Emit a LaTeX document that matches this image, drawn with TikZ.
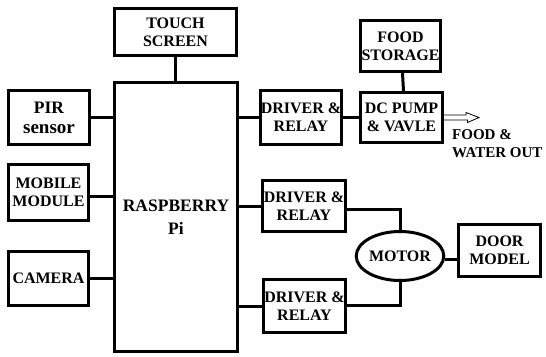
\documentclass[tikz,border=0pt]{standalone}
\usepackage{fontspec}
\setmainfont{Liberation Serif}
\usepackage{tikz}
\usetikzlibrary{shapes.geometric}

\begin{document}
\begin{tikzpicture}[x=1pt, y=-1pt,
  blk/.style={draw, line width=3pt, align=center, inner sep=0pt,
    font=\fontsize{16}{18}\selectfont\bfseries},
  wire/.style={line width=3pt}]
  \useasboundingbox (0,0) rectangle (546,356);
  \node[blk, minimum width=122, minimum height=47] (touch) at (175.5,32) {TOUCH\\SCREEN};
  \node[blk, minimum width=123, minimum height=269,
    font=\fontsize{17.5}{23}\selectfont\bfseries] (rpi) at (176,217) {RASPBERRY\\Pi};
  \node[blk, minimum width=81, minimum height=54,
    font=\fontsize{17.5}{20}\selectfont\bfseries] (pir) at (49,117.5) {PIR\\{\fontsize{19}{20}\selectfont sensor}};
  \node[blk, minimum width=80, minimum height=56] (mobile) at (48.5,192.5) {MOBILE\\MODULE};
  \node[blk, minimum width=80, minimum height=54] (camera) at (48.5,278.5) {CAMERA};
  \node[blk, minimum width=81, minimum height=54] (drvA) at (301,117.5) {DRIVER \&\\RELAY};
  \node[blk, minimum width=83, minimum height=51] (drvB) at (304,206) {DRIVER \&\\RELAY};
  \node[blk, minimum width=82, minimum height=53] (drvC) at (304.5,306) {DRIVER \&\\RELAY};
  \node[blk, minimum width=82, minimum height=50] (pump) at (401.5,117.5) {DC PUMP\\\& VAVLE};
  \node[blk, minimum width=80, minimum height=51] (food) at (400.5,46) {FOOD\\STORAGE};
  \node[blk, ellipse, minimum width=72, minimum height=49] (motor) at (400,256) {MOTOR};
  \node[blk, minimum width=82, minimum height=52] (door) at (499.5,250.5) {DOOR\\MODEL};
  \node[anchor=north west, inner sep=0pt, align=left,
    font=\fontsize{15}{18}\selectfont\bfseries] (out) at (452,129) {FOOD \&\\WATER OUT};
  \coordinate (tip) at (479,117.5);
  % links to the pi
  \draw[wire] (touch.south) -- (rpi.north -| touch.south);
  \draw[wire] (pir.east) -- (pir.east -| rpi.west);
  \draw[wire] ([yshift=-4pt]mobile.east) -- ([yshift=-4pt]mobile.east -| rpi.west);
  \draw[wire] (camera.east) -- (camera.east -| rpi.west);
  \draw[wire] (drvA.west -| rpi.east) -- (drvA.west);
  \draw[wire] (drvB.west -| rpi.east) -- (drvB.west);
  \draw[wire] (drvC.west -| rpi.east) -- (drvC.west);
  % pump and motor side
  \draw[wire] (drvA.east) -- (pump.west);
  \draw[wire] ([xshift=2pt]food.south) -- ([xshift=2pt]pump.north);
  \draw[wire] ([yshift=-3pt]drvB.east) -| (motor.north);
  \draw[wire] ([yshift=1pt]drvC.east) -| (motor.south);
  \draw[wire] ([yshift=-3pt]motor.east) -- ([yshift=-3pt]motor.east -| door.west);
  % hollow arrow out of the pump
  \draw[line width=0.8pt] ([yshift=-2.5pt]pump.east) -- ++(23.5,0) -- ++(0,2.5)
    -- (tip) -- ++(-13,-5) -- ++(0,2.5) -- ([yshift=2.5pt]pump.east);
\end{tikzpicture}
\end{document}
